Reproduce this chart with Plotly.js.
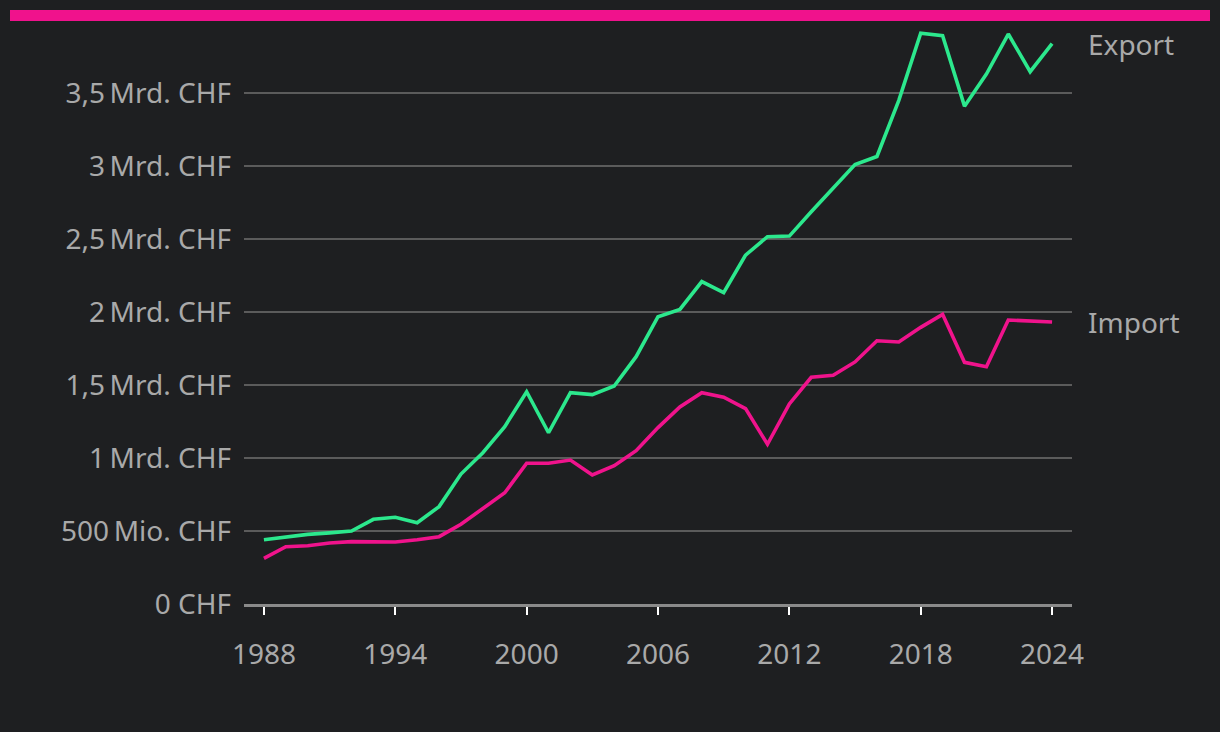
<!DOCTYPE html>
<html>
<head>
<meta charset="utf-8">
<script src="https://cdn.plot.ly/plotly-3.0.1.min.js"></script>
<style>
  html, body { margin: 0; padding: 0; background: #1e1f21; }
  #wrap { position: relative; width: 1220px; height: 732px; }
  #bar { position: absolute; left: 10px; top: 10px; width: 1200px; height: 11px; background: #f0128c; z-index: 5; }
  #chart { position: absolute; left: 0; top: 0; width: 1220px; height: 732px; }
</style>
</head>
<body>
<div id="wrap">
  <div id="chart"></div>
  <div id="bar"></div>
</div>
<script>
const years = [1988,1989,1990,1991,1992,1993,1994,1995,1996,1997,1998,1999,2000,2001,2002,2003,2004,2005,2006,2007,2008,2009,2010,2011,2012,2013,2014,2015,2016,2017,2018,2019,2020,2021,2022,2023,2024];
// values in Mrd. CHF
const exportVals = [0.44,0.46,0.477,0.487,0.50,0.58,0.594,0.557,0.667,0.89,1.036,1.215,1.454,1.173,1.447,1.434,1.493,1.694,1.968,2.018,2.208,2.132,2.39,2.516,2.52,2.687,2.85,3.01,3.065,3.45,3.909,3.892,3.41,3.63,3.904,3.646,3.838];
const importVals = [0.313,0.392,0.399,0.418,0.427,0.427,0.425,0.44,0.461,0.546,0.655,0.762,0.964,0.964,0.986,0.884,0.947,1.05,1.208,1.35,1.447,1.416,1.338,1.094,1.37,1.553,1.566,1.658,1.803,1.795,1.895,1.984,1.655,1.625,1.945,1.938,1.932];
const seriesNames = ["Export","Import"];
const seriesColors = ["#2ce88d","#f0138c"];
const yTickVals = [0,0.5,1,1.5,2,2.5,3,3.5];
const yTickText = ["0\u00A0CHF","500\u202FMio. CHF","1\u202FMrd. CHF","1,5\u202FMrd. CHF","2\u202FMrd. CHF","2,5\u202FMrd. CHF","3\u202FMrd. CHF","3,5\u202FMrd. CHF"];
const xTickVals = [1988,1994,2000,2006,2012,2018,2024];

const font = "'Noto Sans', 'Open Sans', sans-serif";
const textGray = "#a9a9a9";
const allSeries = [exportVals, importVals];

const traces = allSeries.map((vals, i) => ({
  x: years, y: vals, type: "scatter", mode: "lines", name: seriesNames[i],
  line: { color: seriesColors[i], width: 3.6 }, hoverinfo: "x+y"
}));

const annotations = allSeries.map((vals, i) => ({
  x: years[years.length - 1], y: vals[vals.length - 1], xref: "x", yref: "y",
  text: seriesNames[i], showarrow: false, xanchor: "left", yanchor: "middle",
  xshift: 34, font: { family: font, size: 28, color: textGray }
}));

const layout = {
  width: 1220, height: 732,
  paper_bgcolor: "#1e1f21", plot_bgcolor: "#1e1f21",
  margin: { l: 244, r: 148, t: 30, b: 128 },
  showlegend: false,
  font: { family: font, color: textGray, size: 28 },
  xaxis: {
    range: [1987.09, 2024.91], tickvals: xTickVals, ticktext: xTickVals.map(String),
    showgrid: false, zeroline: false,
    showline: true, linecolor: "#8a8a8a", linewidth: 3,
    ticks: "outside", ticklen: 8, tickwidth: 2, tickcolor: "#ffffff",
    ticklabelstandoff: 15,
    tickfont: { family: font, size: 28, color: textGray }
  },
  yaxis: {
    range: [0, 3.9315], tickvals: yTickVals, ticktext: yTickText,
    showgrid: true, gridcolor: "#5b5b5b", gridwidth: 2,
    zeroline: false, showline: false, ticks: "", ticklabelstandoff: 12,
    tickfont: { family: font, size: 28, color: textGray }
  },
  annotations: annotations
};

Plotly.newPlot("chart", traces, layout, { displayModeBar: false, staticPlot: true });
</script>
</body>
</html>
